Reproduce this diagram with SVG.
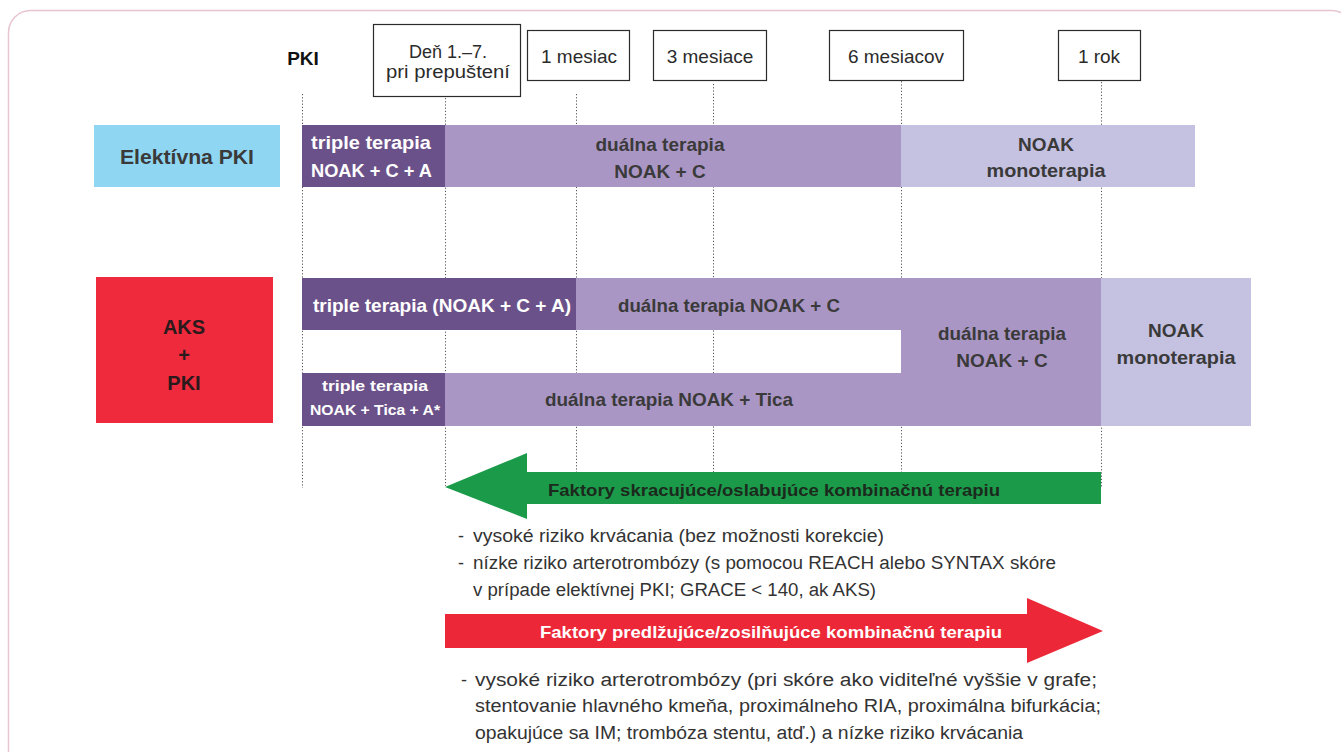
<svg xmlns="http://www.w3.org/2000/svg" width="1341" height="752" viewBox="0 0 1341 752">
<style>
.frame{fill:none;stroke:#e7c4d0;stroke-width:1.5}
.tbox{fill:#fff;stroke:#2b2b2b;stroke-width:1.2}
.tt{font-family:"Liberation Sans",Arial,sans-serif;font-size:19px;fill:#2b2b2b;text-anchor:middle}
.dot{stroke:#555;stroke-width:1;stroke-dasharray:1.2 2;fill:none}
.b{font-family:"Liberation Sans",Arial,sans-serif;font-weight:bold;font-size:19px;text-anchor:middle}
.w{fill:#fff}
.d{fill:#3a3a3a}
.dk{fill:#6b5189}
.md{fill:#aa96c4}
.lt{fill:#c4c1e1}
.bul{font-family:"Liberation Sans",Arial,sans-serif;font-size:18px;fill:#333}
</style>
<rect class="frame" x="8.5" y="10.5" width="1345" height="770" rx="22"/>

<g id="connectors">
<line class="dot" x1="302.5" y1="94" x2="302.5" y2="488"/>
<line class="dot" x1="445.5" y1="82" x2="445.5" y2="486"/>
<line class="dot" x1="576.5" y1="94" x2="576.5" y2="472"/>
<line class="dot" x1="713.5" y1="84" x2="713.5" y2="472"/>
<line class="dot" x1="901.5" y1="78" x2="901.5" y2="472"/>
<line class="dot" x1="1101.5" y1="82" x2="1101.5" y2="488"/>
</g>

<g id="lbl-pki"><text x="303" y="65" class="b" style="fill:#111">PKI</text></g>
<g id="t-den"><rect class="tbox" x="373.5" y="24.5" width="147" height="72"/>
<text class="tt" x="448" y="58" style="font-size:18px">Deň 1.–7.</text><text class="tt" x="448" y="78" textLength="124" lengthAdjust="spacingAndGlyphs" style="font-size:18px">pri prepuštení</text></g>
<g id="t-1m"><rect class="tbox" x="527.5" y="30.5" width="102" height="50"/><text class="tt" x="579" y="63">1 mesiac</text></g>
<g id="t-3m"><rect class="tbox" x="653.5" y="30.5" width="113" height="50"/><text class="tt" x="710" y="63">3 mesiace</text></g>
<g id="t-6m"><rect class="tbox" x="829.5" y="30.5" width="134" height="50"/><text class="tt" x="896" y="63">6 mesiacov</text></g>
<g id="t-1r"><rect class="tbox" x="1058.5" y="30.5" width="82" height="50"/><text class="tt" x="1099" y="63">1 rok</text></g>

<g id="elektivna">
<rect x="94" y="125" width="186" height="62" fill="#8fd6f3"/>
<text class="b d" x="187" y="164" style="font-size:20px" textLength="134" lengthAdjust="spacingAndGlyphs">Elektívna PKI</text>
</g>
<g id="e-triple">
<rect class="dk" x="302" y="125" width="143" height="62"/>
<text class="b w" x="311" y="149" style="text-anchor:start" textLength="120" lengthAdjust="spacingAndGlyphs">triple terapia</text>
<text class="b w" x="311" y="177" style="text-anchor:start" textLength="121" lengthAdjust="spacingAndGlyphs">NOAK + C + A</text>
</g>
<g id="e-dual">
<rect class="md" x="445" y="125" width="456" height="62"/>
<text class="b d" x="660" y="151" textLength="129" lengthAdjust="spacingAndGlyphs">duálna terapia</text>
<text class="b d" x="660" y="178">NOAK + C</text>
</g>
<g id="e-noak">
<rect class="lt" x="901" y="125" width="294" height="62"/>
<text class="b d" x="1046" y="151">NOAK</text>
<text class="b d" x="1046" y="177" textLength="119" lengthAdjust="spacingAndGlyphs">monoterapia</text>
</g>

<g id="aks">
<rect x="96" y="277" width="177" height="146" fill="#ee2a3c"/>
<text class="b" x="184" y="334" fill="#2a1a1c" style="font-size:20px">AKS</text>
<text class="b" x="184" y="362" fill="#2a1a1c" style="font-size:20px">+</text>
<text class="b" x="184" y="390" fill="#2a1a1c" style="font-size:20px">PKI</text>
</g>
<g id="a-triple1">
<rect class="dk" x="302" y="278" width="274" height="52"/>
<text class="b w" x="442" y="312" textLength="258" lengthAdjust="spacingAndGlyphs">triple terapia (NOAK + C + A)</text>
</g>
<g id="a-dual1">
<rect class="md" x="576" y="278" width="325" height="52"/>
<text class="b d" x="729" y="312" textLength="222" lengthAdjust="spacingAndGlyphs">duálna terapia NOAK + C</text>
</g>
<g id="a-dual-big">
<rect class="md" x="901" y="278" width="200" height="148"/>
<text class="b d" x="1002" y="340" textLength="128" lengthAdjust="spacingAndGlyphs">duálna terapia</text>
<text class="b d" x="1002" y="367">NOAK + C</text>
</g>
<g id="a-noak">
<rect class="lt" x="1101" y="278" width="150" height="148"/>
<text class="b d" x="1176" y="337">NOAK</text>
<text class="b d" x="1176" y="364" textLength="119" lengthAdjust="spacingAndGlyphs">monoterapia</text>
</g>
<g id="a-triple2">
<rect class="dk" x="302" y="373" width="143" height="53"/>
<text class="b w" x="375" y="391" style="font-size:15px" textLength="106" lengthAdjust="spacingAndGlyphs">triple terapia</text>
<text class="b w" x="375" y="415" style="font-size:15px" textLength="130" lengthAdjust="spacingAndGlyphs">NOAK + Tica + A*</text>
</g>
<g id="a-dual2">
<rect class="md" x="445" y="373" width="456" height="53"/>
<text class="b d" x="669" y="406" textLength="248" lengthAdjust="spacingAndGlyphs">duálna terapia NOAK + Tica</text>
</g>

<g id="arrow-green">
<polygon points="445,487 527,453 527,472 1101,472 1101,504 527,504 527,519" fill="#1b9b4a"/>
<text class="b" x="774" y="496" style="font-size:17px" fill="#1b2a1d" textLength="452" lengthAdjust="spacingAndGlyphs">Faktory skracujúce/oslabujúce kombinačnú terapiu</text>
</g>
<g id="text-short">
<text class="bul" y="542"><tspan x="458">-</tspan><tspan x="473" textLength="411" lengthAdjust="spacingAndGlyphs">vysoké riziko krvácania (bez možnosti korekcie)</tspan></text>
<text class="bul" y="569"><tspan x="458">-</tspan><tspan x="473" textLength="583" lengthAdjust="spacingAndGlyphs">nízke riziko arterotrombózy (s pomocou REACH alebo SYNTAX skóre</tspan></text>
<text class="bul" x="473" y="596" textLength="403" lengthAdjust="spacingAndGlyphs">v prípade elektívnej PKI; GRACE &lt; 140, ak AKS)</text>
</g>

<g id="arrow-red">
<polygon points="445,614 1027,614 1027,598 1103,631 1027,663 1027,648 445,648" fill="#ec2838"/>
<text class="b w" x="771" y="638" style="font-size:17px" textLength="462" lengthAdjust="spacingAndGlyphs">Faktory predlžujúce/zosilňujúce kombinačnú terapiu</text>
</g>
<g id="text-long">
<text class="bul" y="686"><tspan x="461">-</tspan><tspan x="475" textLength="622" lengthAdjust="spacingAndGlyphs">vysoké riziko arterotrombózy (pri skóre ako viditeľné vyššie v grafe;</tspan></text>
<text class="bul" x="475" y="712" textLength="626" lengthAdjust="spacingAndGlyphs">stentovanie hlavného kmeňa, proximálneho RIA, proximálna bifurkácia;</text>
<text class="bul" x="475" y="739" textLength="548" lengthAdjust="spacingAndGlyphs">opakujúce sa IM; trombóza stentu, atď.) a nízke riziko krvácania</text>
</g>
</svg>
